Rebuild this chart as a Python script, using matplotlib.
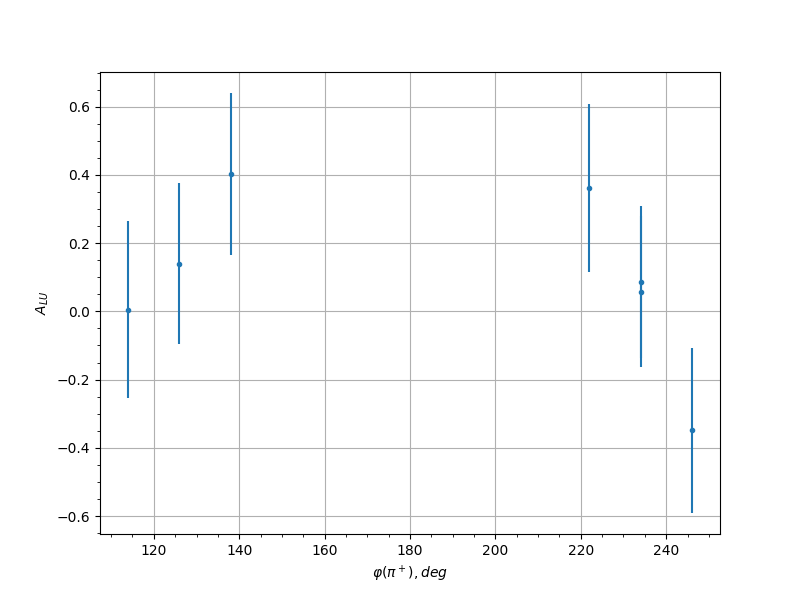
import matplotlib
matplotlib.use("Agg")
import matplotlib.pyplot as plt

phi = [114, 126, 138, 222, 234, 234, 246]
alu = [0.005, 0.140, 0.403, 0.362, 0.087, 0.058, -0.349]
err = [0.260, 0.237, 0.237, 0.246, 0.223, 0.221, 0.242]

fig, ax = plt.subplots(figsize=(8, 6), dpi=100)
ax.errorbar(phi, alu, yerr=err, fmt='o', markersize=3, color='#1f77b4')
ax.grid(True)
ax.minorticks_on()
ax.set_xlabel(r'$\varphi(\pi^+), deg$')
ax.set_ylabel(r'$A_{LU}$')
fig.savefig('out.png')
